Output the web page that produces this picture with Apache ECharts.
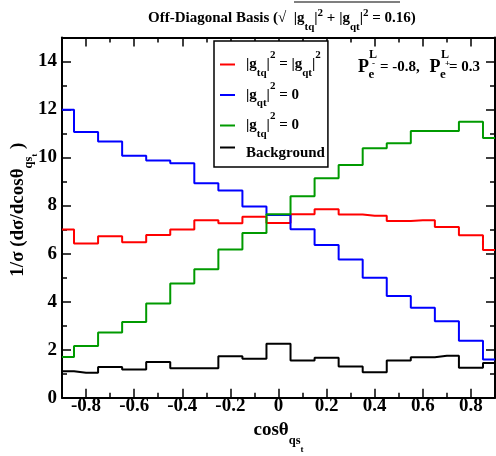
<!DOCTYPE html>
<html><head><meta charset="utf-8">
<script src="https://cdn.jsdelivr.net/npm/echarts@6/dist/echarts.min.js"></script>
<style>html,body{margin:0;padding:0;background:#fff}#c{width:496px;height:456px}</style>
</head><body><div id="c"></div>
<script>
// ---- data (bin centres of cos(theta) and normalized distributions) ----
const binCenters = [-0.9,-0.8,-0.7,-0.6,-0.5,-0.4,-0.3,-0.2,-0.1,0,0.1,0.2,0.3,0.4,0.5,0.6,0.7,0.8,0.9];
const equalCouplings = [7.0,6.42,6.72,6.47,6.78,7.0,7.39,7.26,7.54,7.28,7.64,7.85,7.63,7.58,7.36,7.39,7.11,6.76,6.15];
const gqtZero = [11.99,11.06,10.67,10.08,9.88,9.76,8.93,8.63,7.96,7.61,7.01,6.36,5.76,5.0,4.24,3.75,3.18,2.37,1.59];
const gtqZero = [1.70,2.15,2.72,3.15,3.92,4.76,5.35,6.17,6.86,7.64,8.39,9.14,9.69,10.39,10.6,11.11,11.11,11.49,10.81];
const background = [1.10,1.04,1.28,1.17,1.49,1.23,1.23,1.73,1.62,2.25,1.55,1.66,1.30,1.06,1.55,1.68,1.75,1.25,1.44];
const xTickValues = [-0.8,-0.6,-0.4,-0.2,0,0.2,0.4,0.6,0.8];
const xTickLabels = ['-0.8','-0.6','-0.4','-0.2','0','0.2','0.4','0.6','0.8'];
const yTickValues = [0,2,4,6,8,10,12,14];
const yTickLabels = ['0','2','4','6','8','10','12','14'];
const seriesNames = ['equal','gqt0','gtq0','bg'];
const seriesColors = ['#ff0000','#0000ff','#009a00','#000000'];

const F = '"Liberation Serif", "Times New Roman", serif';
function richSet(fs, sfs, subDrop, supRise, ssfs, ssDrop, lh) {
  const base = {fontFamily: F, fontWeight: 'bold', color: '#000', verticalAlign: 'middle'};
  return {
    b: Object.assign({}, base, {fontSize: fs, lineHeight: lh}),
    b0: Object.assign({}, base, {fontSize: fs, lineHeight: lh, padding: [0, 0, 0, 16]}),
    s: Object.assign({}, base, {fontSize: sfs, padding: [2 * subDrop, 0, 0, 0]}),
    p: Object.assign({}, base, {fontSize: sfs, padding: [0, 0, 2 * supRise, 0]}),
    ss: Object.assign({}, base, {fontSize: ssfs, padding: [2 * ssDrop, 0, 0, 0]}),
    bg: Object.assign({}, base, {fontSize: fs, padding: [12, 0, 0, 0]}),
    gap: {width: 6}
  };
}
const legendLabels = {
  equal: '{gap|}{b||g}{s|tq}{b||}{p|2}{b| = |g}{s|qt}{b||}{p|2}',
  gqt0: '{gap|}{b||g}{s|qt}{b||}{p|2}{b| = 0}',
  gtq0: '{gap|}{b||g}{s|tq}{b||}{p|2}{b| = 0}',
  bg: '{gap|}{bg|Background}'
};

const chart = echarts.init(document.getElementById('c'), null, {renderer: 'canvas'});
const valueSets = [equalCouplings, gqtZero, gtqZero, background];

const tickFont = {fontFamily: F, fontWeight: 'bold', fontSize: 19, color: '#000'};
const lineSt = {color: '#000', width: 2};
function xAxisDef(pos, major) {
  return {
    type: 'value', position: pos, min: -0.9, max: 0.9, interval: 0.1,
    splitLine: {show: false},
    axisLine: {show: !major, onZero: false, lineStyle: lineSt},
    axisTick: major ? {show: true, inside: true, length: 9, customValues: xTickValues, lineStyle: {color: '#000', width: 1.5}}
                    : {show: true, inside: true, length: 5, lineStyle: {color: '#000', width: 1.5}},
    axisLabel: (pos === 'bottom' && !major) ? Object.assign({
      show: true, margin: -1, customValues: xTickValues,
      formatter: v => { const i = xTickValues.findIndex(t => Math.abs(t - v) < 1e-6); return i >= 0 ? xTickLabels[i] : ''; }
    }, tickFont) : {show: false}
  };
}
function yAxisDef(pos, major) {
  return {
    type: 'value', position: pos, min: 0, max: 15, interval: 1,
    splitLine: {show: false},
    axisLine: {show: !major, onZero: false, lineStyle: lineSt},
    axisTick: major ? {show: true, inside: true, length: 9, customValues: yTickValues, lineStyle: {color: '#000', width: 1.5}}
                    : {show: true, inside: true, length: 5, lineStyle: {color: '#000', width: 1.5}},
    axisLabel: (pos === 'left' && !major) ? Object.assign({
      show: true, margin: 5, customValues: yTickValues,
      formatter: v => { const i = yTickValues.findIndex(t => Math.abs(t - v) < 1e-6); return i >= 0 ? yTickLabels[i] : ''; }
    }, tickFont) : {show: false}
  };
}
const xMain = xAxisDef('bottom', false);
xMain.name = '{b|cos\u03b8}{s|qs}{ss|t}';
xMain.nameLocation = 'middle';
xMain.nameGap = 2;
xMain.nameTextStyle = {rich: richSet(19, 12.5, 11, 0, 9, 19.3, 22)};
const yMain = yAxisDef('left', false);
yMain.name = '{b0|1/\u03c3 (d\u03c3/dcos\u03b8}{s|qs}{ss|t}{b| )}';
yMain.nameLocation = 'middle';
yMain.nameRotate = 90;
yMain.nameGap = 23;
yMain.nameMoveOverlap = false;
yMain.nameTextStyle = {rich: richSet(19, 12.5, 10, 0, 9, 16, 22)};

const option = {
  backgroundColor: '#fff',
  animation: false,
  title: {
    text: '{b|Off-Diagonal Basis (\u221a  |g}{s|tq}{b||}{p|2}{b| + |g}{s|qt}{b||}{p|2}{b| = 0.16)}',
    left: 148, top: 3.5, padding: 0,
    textStyle: {rich: richSet(15, 11, 9, 5, 9, 12, 20)}
  },
  grid: {left: 62, right: 1, top: 37.5, bottom: 58.3, containLabel: false, outerBoundsMode: 'none'},
  legend: {
    orient: 'vertical', left: 214, top: 41,
    data: seriesNames, icon: 'rect', itemWidth: 15, itemHeight: 2, itemGap: 2,
    padding: [9, 3, 6, 6], borderColor: '#000', borderWidth: 1.5, backgroundColor: '#fff',
    selectedMode: false,
    formatter: n => legendLabels[n],
    textStyle: {rich: richSet(15, 11, 8.5, 9, 9, 12, 20)}
  },
  xAxis: [xMain, xAxisDef('bottom', true), xAxisDef('top', false), xAxisDef('top', true)],
  yAxis: [yMain, yAxisDef('left', true), yAxisDef('right', false), yAxisDef('right', true)],
  series: seriesNames.map((n, k) => ({
    name: n, type: 'line', step: 'middle', xAxisIndex: 0, yAxisIndex: 0,
    showSymbol: false, symbol: 'none', color: seriesColors[k],
    lineStyle: {color: seriesColors[k], width: 2},
    data: binCenters.map((x, i) => [x, valueSets[k][i]])
  })),
  graphic: [
    // overline of the square root in the title
    {type: 'line', shape: {x1: 294, y1: 2, x2: 400, y2: 2}, style: {stroke: '#000', lineWidth: 1.2}},
    // polarisation annotation
    {type: 'text', x: 358, y: 67, style: {text: 'P', font: 'bold 18px ' + F, fill: '#000', verticalAlign: 'middle'}},
    {type: 'text', x: 369, y: 55, style: {text: 'L', font: 'bold 12px ' + F, fill: '#000', verticalAlign: 'middle'}},
    {type: 'text', x: 368.5, y: 74.5, style: {text: 'e', font: 'bold 13px ' + F, fill: '#000', verticalAlign: 'middle'}},
    {type: 'text', x: 372, y: 64, style: {text: '-', font: 'bold 9px ' + F, fill: '#000', verticalAlign: 'middle'}},
    {type: 'text', x: 380, y: 67.5, style: {text: '= -0.8,', font: 'bold 15px ' + F, fill: '#000', verticalAlign: 'middle'}},
    {type: 'text', x: 429.5, y: 67, style: {text: 'P', font: 'bold 18px ' + F, fill: '#000', verticalAlign: 'middle'}},
    {type: 'text', x: 441, y: 55, style: {text: 'L', font: 'bold 12px ' + F, fill: '#000', verticalAlign: 'middle'}},
    {type: 'text', x: 440, y: 74.5, style: {text: 'e', font: 'bold 13px ' + F, fill: '#000', verticalAlign: 'middle'}},
    {type: 'text', x: 445, y: 64, style: {text: '+', font: 'bold 9px ' + F, fill: '#000', verticalAlign: 'middle'}},
    {type: 'text', x: 449, y: 67.5, style: {text: '= 0.3', font: 'bold 15px ' + F, fill: '#000', verticalAlign: 'middle'}}
  ]
};
chart.setOption(option);
</script></body></html>
